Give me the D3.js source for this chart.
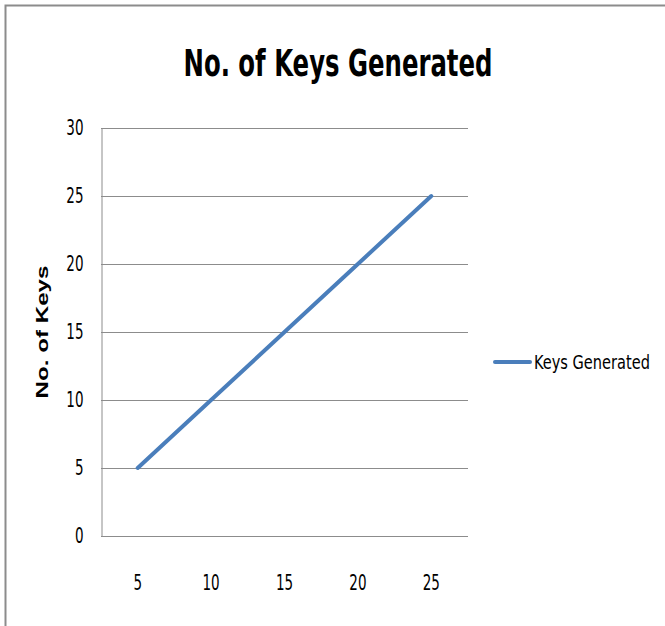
<!DOCTYPE html>
<html><head><meta charset="utf-8">
<script src="https://cdn.jsdelivr.net/npm/d3@7"></script>
<style>body{margin:0;background:#fff}svg{display:block}</style>
</head><body>
<script>
const categories = ["5","10","15","20","25"];
const keysGenerated = [5,10,15,20,25];
const yTicks = [0,5,10,15,20,25,30];
const seriesName = "Keys Generated";
const titleText = "No. of Keys Generated";
const yTitle = "No. of Keys";

const W=665,H=626;
const svg=d3.select("body").append("svg").attr("width",W).attr("height",H);
svg.append("rect").attr("width",W).attr("height",H).attr("fill","#fff");
// frame
svg.append("path").attr("d",`M5.5,${H} V5.5 H${W}`).attr("fill","none").attr("stroke","#8c8c8c").attr("stroke-width",2);

const pLeft=101,pRight=468,pTop=128,pBottom=536;
const x=d3.scaleBand().domain(categories).range([pLeft,pRight]);
const y=d3.scaleLinear().domain([0,30]).range([pBottom,pTop]);
const narrow="'Liberation Sans Narrow','DejaVu Sans Condensed','Open Sans',Arial,sans-serif";

// gridlines
svg.append("g").selectAll("line").data(yTicks).join("line")
 .attr("x1",pLeft).attr("x2",pRight).attr("y1",d=>Math.round(y(d))+0.5).attr("y2",d=>Math.round(y(d))+0.5)
 .attr("stroke","#8c8c8c").attr("stroke-width",1);
// y axis
const ya=svg.append("g").attr("transform",`translate(${pLeft+0.5},0)`)
 .call(d3.axisLeft(y).tickValues(yTicks).tickSize(0).tickPadding(18));
ya.select(".domain").attr("stroke","#8c8c8c");
ya.selectAll("text").attr("font-family",narrow).attr("font-size",21).attr("fill","#000")
 .attr("textLength",d=>String(d).length*8.6).attr("lengthAdjust","spacingAndGlyphs");
// x axis
const xa=svg.append("g").attr("transform",`translate(0,${pBottom})`)
 .call(d3.axisBottom(x).tickSize(0).tickPadding(39));
xa.select(".domain").remove();
xa.selectAll("text").attr("font-family",narrow).attr("font-size",21).attr("fill","#000")
 .attr("textLength",d=>String(d).length*8.6).attr("lengthAdjust","spacingAndGlyphs");

// line
svg.append("path").datum(keysGenerated)
 .attr("d",d3.line().x((d,i)=>x(categories[i])+x.bandwidth()/2).y(d=>y(d)))
 .attr("fill","none").attr("stroke","#4a7ebb").attr("stroke-width",4).attr("stroke-linecap","round");

// title
svg.append("text").attr("x",338).attr("y",76).attr("text-anchor","middle")
 .attr("font-family",narrow).attr("font-weight","bold").attr("font-size",38)
 .attr("textLength",309).attr("lengthAdjust","spacingAndGlyphs").text(titleText);
// y title
svg.append("text").attr("transform","translate(48,332) rotate(-90)").attr("text-anchor","middle")
 .attr("font-family","Arial,'Liberation Sans',sans-serif").attr("font-weight","bold").attr("font-size",17)
 .attr("textLength",133).attr("lengthAdjust","spacingAndGlyphs")
 .text(yTitle);
// legend
svg.append("line").attr("x1",495).attr("x2",530).attr("y1",362).attr("y2",362)
 .attr("stroke","#4a7ebb").attr("stroke-width",4).attr("stroke-linecap","round");
const lt=svg.append("text").attr("font-family",narrow).attr("font-size",20).text(seriesName);
const natural=lt.node().getComputedTextLength();
lt.attr("transform",`translate(534,369) scale(${116/natural},1)`);
</script>
</body></html>
